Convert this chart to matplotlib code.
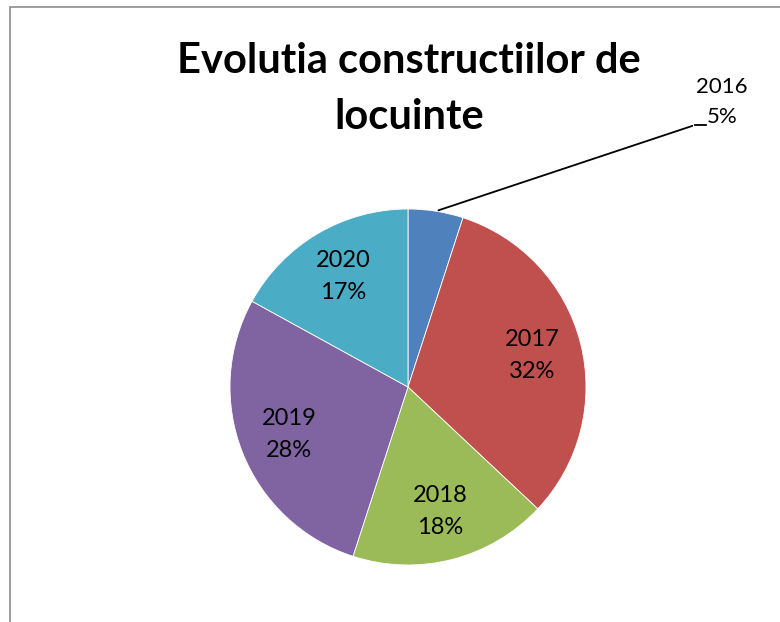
import numpy as np
import matplotlib
matplotlib.use("Agg")
import matplotlib.pyplot as plt
from matplotlib.patches import Rectangle

plt.rcParams['font.family'] = ['Lato', 'DejaVu Sans']

years = ["2016", "2017", "2018", "2019", "2020"]
shares = [5, 32, 18, 28, 17]
colors = ["#4F81BD", "#C0504D", "#9BBB59", "#8064A2", "#4BACC6"]
title = "Evolutia constructiilor de\nlocuinte"

W, H = 780, 622
fig = plt.figure(figsize=(W / 100, H / 100), dpi=100)
fig.patch.set_facecolor("white")
fig.patches.append(Rectangle((10 / W, -0.05), 1.2, 1 - 7 / H + 0.05,
                             transform=fig.transFigure, fill=False,
                             edgecolor="#8c8c8c", linewidth=1.2))

ax = fig.add_axes([0, 0, 1, 1])

cx, cy, R = 408, H - 387, 178
wedges, _ = ax.pie(shares, colors=colors, startangle=90, counterclock=False,
                   center=(cx, cy), radius=R, frame=True,
                   wedgeprops=dict(edgecolor="white", linewidth=0.6))
ax.set_xlim(0, W)
ax.set_ylim(0, H)
ax.set_aspect("equal")
ax.axis("off")

for i, w in enumerate(wedges):
    mid = np.deg2rad((w.theta1 + w.theta2) / 2)
    lab = f"{years[i]}\n{shares[i]}%"
    if i == 0:
        px, py = cx + R * np.cos(mid), cy + R * np.sin(mid)
        ax.annotate("", xy=(px, py), xytext=(695, H - 125),
                    arrowprops=dict(arrowstyle="-", color="black", lw=1.3))
        ax.plot([695, 706], [H - 125, H - 125], color="black", lw=1.3)
        ax.text(722, H - 102, lab, ha="center", va="center", fontsize=16,
                linespacing=1.6)
    else:
        d = 0.72 * R
        ax.text(cx + d * np.cos(mid), cy + d * np.sin(mid), lab,
                ha="center", va="center", fontsize=17, linespacing=1.65)

ax.text(409, H - 89, title, ha="center", va="center", fontsize=30,
        fontweight="bold", linespacing=1.6)

fig.savefig("out.png", dpi=100, facecolor="white")
